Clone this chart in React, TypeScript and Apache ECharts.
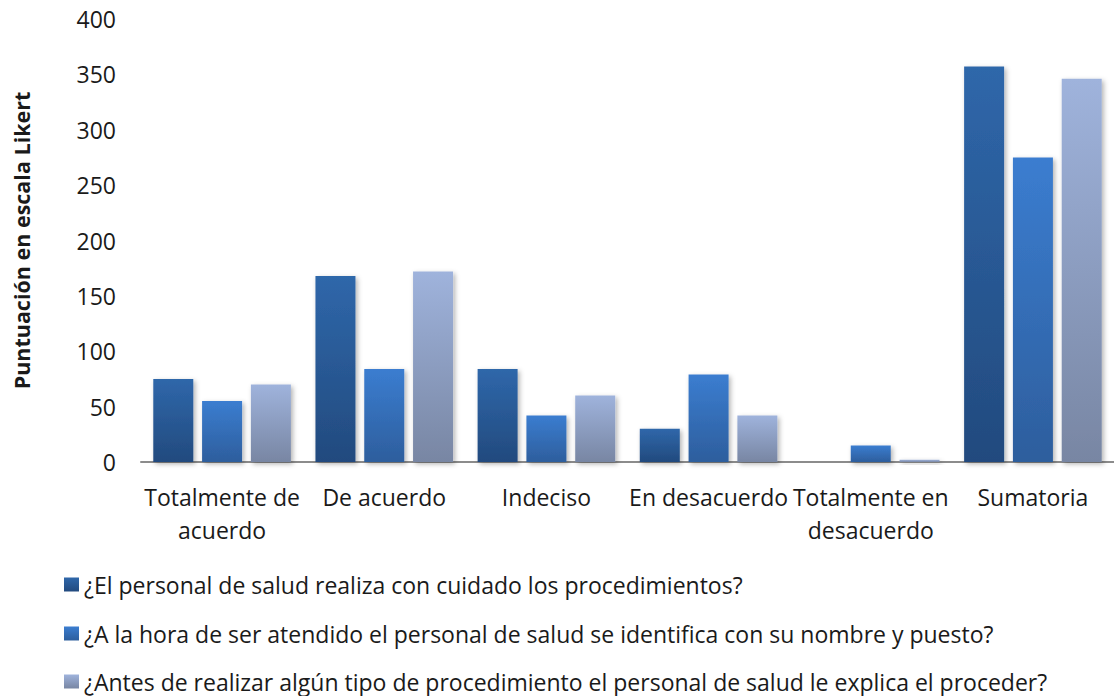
import React, { useEffect, useRef } from "react";
import * as echarts from "echarts";

const categories = [
  "Totalmente de\nacuerdo",
  "De acuerdo",
  "Indeciso",
  "En desacuerdo",
  "Totalmente en\ndesacuerdo",
  "Sumatoria",
];
const seriesNames = [
  "¿El personal de salud realiza con cuidado los procedimientos?",
  "¿A la hora de ser atendido el personal de salud se identifica con su nombre y puesto?",
  "¿Antes de realizar algún tipo de procedimiento el personal de salud le explica el proceder?",
];
const cuidado = [75, 168, 84, 30, 0, 357];
const identifica = [55, 84, 42, 79, 15, 275];
const explica = [70, 172, 60, 42, 2, 346];
const yTicks = { min: 0, max: 400, interval: 50 };

const FONT = "Open Sans";

const grad = (top: string, bottom: string) =>
  new echarts.graphic.LinearGradient(0, 0, 0, 1, [
    { offset: 0, color: top },
    { offset: 1, color: bottom },
  ]);

export default function App() {
  const ref = useRef<HTMLDivElement>(null);
  useEffect(() => {
    if (!ref.current) return;
    const chart = echarts.init(ref.current, undefined, { renderer: "svg" });
    const colors = [
      ["#2f67aa", "#224a7e"],
      ["#3b7dd0", "#2d5e9d"],
      ["#9fb3dc", "#7886a3"],
    ];
    const datasets = [cuidado, identifica, explica];
    const legendTops = [573, 622, 670];
    chart.setOption({
      animation: false,
      textStyle: { fontFamily: FONT },
      grid: { left: 141, right: -5, top: 19, bottom: 234, containLabel: false },
      legend: seriesNames.map((n, i) => ({
        orient: "horizontal",
        left: 64,
        top: legendTops[i],
        padding: 0,
        itemWidth: 15,
        itemHeight: 14,
        itemGap: 6,
        icon: "rect",
        textStyle: { fontSize: 23, color: "#1a1a1a", fontFamily: FONT },
        data: [n],
      })),
      xAxis: {
        type: "category",
        data: categories,
        axisLine: { show: true, lineStyle: { color: "#8c8c8c", width: 2 } },
        axisTick: { show: false },
        axisLabel: {
          interval: 0,
          margin: 18,
          fontSize: 23,
          lineHeight: 33,
          color: "#1a1a1a",
          fontFamily: FONT,
        },
      },
      yAxis: {
        type: "value",
        min: yTicks.min,
        max: yTicks.max,
        interval: yTicks.interval,
        name: "Puntuación en escala Likert",
        nameLocation: "middle",
        nameGap: 109,
        nameTextStyle: { fontSize: 21.5, fontWeight: "bold", color: "#1a1a1a", fontFamily: FONT },
        splitLine: { show: false },
        axisLine: { show: false },
        axisTick: { show: false },
        axisLabel: { fontSize: 23, color: "#1a1a1a", margin: 25, fontFamily: FONT },
      },
      series: datasets.map((d, i) => ({
        name: seriesNames[i],
        type: "bar",
        data: d,
        barWidth: 40,
        barGap: "22%",
        itemStyle: {
          color: grad(colors[i][0], colors[i][1]),
          shadowBlur: 5,
          shadowColor: "rgba(0,0,0,0.3)",
          shadowOffsetX: 2,
          shadowOffsetY: 2,
        },
      })),
    });
    return () => chart.dispose();
  }, []);
  return (
    <div
      ref={ref}
      style={{ position: "absolute", left: 0, top: 0, width: 1114, height: 696 }}
    />
  );
}
